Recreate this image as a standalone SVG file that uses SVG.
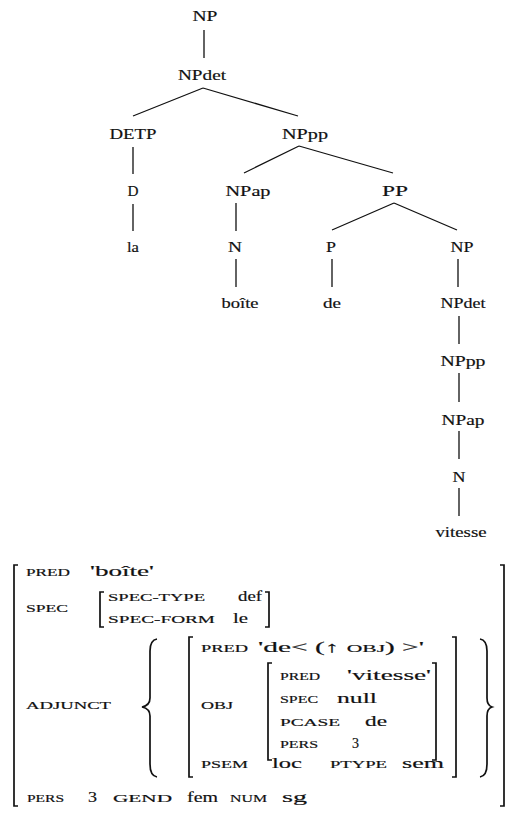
<svg xmlns="http://www.w3.org/2000/svg" width="508" height="819" viewBox="0 0 508 819">
<style>
text{font-family:"Liberation Serif","DejaVu Serif",serif;fill:#111;stroke:#111;stroke-width:0.18}
.n{font-size:14.5px;text-anchor:middle}
.sc{font-size:11px}
.v{font-size:15px}
.e{stroke:#111;stroke-width:1.3;fill:none}
.b{stroke:#111;stroke-width:1.7;fill:none}
</style>
<rect width="508" height="819" fill="#fff"/>
<g id="connectors">
<path class="e" d="M204 30V58M203 88L133 116M203 88L298 116M133 147V174M299 146L244 173M299 146L393 173M133 204V231M236 203V231M394 203L332 230M394 203L457 230M236 259V287M332 259V287M458 259V287M459 316V344M459 373V402M459 431V459M459 488V516"/>
</g>
<g id="n_np"><text class="n" x="205" y="21" textLength="25" lengthAdjust="spacingAndGlyphs">NP</text></g>
<g id="n_npdet"><text class="n" x="202" y="80" textLength="48" lengthAdjust="spacingAndGlyphs">NPdet</text></g>
<g id="n_detp"><text class="n" x="133" y="139" textLength="47" lengthAdjust="spacingAndGlyphs">DETP</text></g>
<g id="n_nppp"><text class="n" x="305" y="139" textLength="46" lengthAdjust="spacingAndGlyphs">NPpp</text></g>
<g id="n_d"><text class="n" x="133" y="196" textLength="11" lengthAdjust="spacingAndGlyphs">D</text></g>
<g id="n_npap"><text class="n" x="248" y="196" textLength="45" lengthAdjust="spacingAndGlyphs">NPap</text></g>
<g id="n_pp"><text class="n" x="395" y="196" textLength="26" lengthAdjust="spacingAndGlyphs">PP</text></g>
<g id="n_la"><text class="n" x="133" y="252" textLength="12" lengthAdjust="spacingAndGlyphs">la</text></g>
<g id="n_n"><text class="n" x="235" y="252" textLength="14" lengthAdjust="spacingAndGlyphs">N</text></g>
<g id="n_p"><text class="n" x="331" y="252" textLength="10" lengthAdjust="spacingAndGlyphs">P</text></g>
<g id="n_np2"><text class="n" x="462" y="252" textLength="23" lengthAdjust="spacingAndGlyphs">NP</text></g>
<g id="n_boite"><text class="n" x="240" y="308" textLength="37" lengthAdjust="spacingAndGlyphs">boîte</text></g>
<g id="n_de"><text class="n" x="332" y="308" textLength="18" lengthAdjust="spacingAndGlyphs">de</text></g>
<g id="n_npdet2"><text class="n" x="463" y="308" textLength="45" lengthAdjust="spacingAndGlyphs">NPdet</text></g>
<g id="n_nppp2"><text class="n" x="463" y="366" textLength="45" lengthAdjust="spacingAndGlyphs">NPpp</text></g>
<g id="n_npap2"><text class="n" x="463" y="425" textLength="43" lengthAdjust="spacingAndGlyphs">NPap</text></g>
<g id="n_n2"><text class="n" x="459" y="482" textLength="13" lengthAdjust="spacingAndGlyphs">N</text></g>
<g id="n_vitesse"><text class="n" x="461" y="537" textLength="51" lengthAdjust="spacingAndGlyphs">vitesse</text></g>
<g id="avm">
<path class="b" d="M18 565H14V806H18M500 565H504V806H500"/>
<path class="b" d="M104 592H100V627H104M265 592H269V627H265"/>
<path class="b" d="M193 637H189V777H193M452 637H456V777H452"/>
<path class="b" d="M272 663H268V760H272M432 663H436V760H432"/>
<path class="b" d="M157 639C151 640 150 645 150 651V698C150 703 147 706 142 707C147 708 150 711 150 716V764C150 770 151 776 157 777"/>
<path class="b" d="M480 639C486 640 487 645 487 651V698C487 703 489 706 492 707C489 708 487 711 487 716V764C487 770 486 776 480 777"/>
<text class="sc" x="26" y="576" textLength="44" lengthAdjust="spacingAndGlyphs">PRED</text>
<text class="v" x="90" y="576" textLength="64" lengthAdjust="spacingAndGlyphs">'boîte'</text>
<text class="sc" x="26" y="612" textLength="42" lengthAdjust="spacingAndGlyphs">SPEC</text>
<text class="sc" x="108" y="601" textLength="97" lengthAdjust="spacingAndGlyphs">SPEC-TYPE</text>
<text class="v" x="238" y="601" textLength="24" lengthAdjust="spacingAndGlyphs">def</text>
<text class="sc" x="108" y="623" textLength="107" lengthAdjust="spacingAndGlyphs">SPEC-FORM</text>
<text class="v" x="233" y="623" textLength="15" lengthAdjust="spacingAndGlyphs">le</text>
<text class="sc" x="26" y="709" textLength="85" lengthAdjust="spacingAndGlyphs">ADJUNCT</text>
<text class="sc" x="201" y="652" textLength="47" lengthAdjust="spacingAndGlyphs">PRED</text>
<text class="v" x="258" y="652" textLength="166" lengthAdjust="spacingAndGlyphs">'de&lt; (↑ <tspan style="font-size:11px">OBJ</tspan>) &gt;'</text>
<text class="sc" x="201" y="709" textLength="32" lengthAdjust="spacingAndGlyphs">OBJ</text>
<text class="sc" x="280" y="680" textLength="40" lengthAdjust="spacingAndGlyphs">PRED</text>
<text class="v" x="347" y="680" textLength="84" lengthAdjust="spacingAndGlyphs">'vitesse'</text>
<text class="sc" x="280" y="703" textLength="38" lengthAdjust="spacingAndGlyphs">SPEC</text>
<text class="v" x="337" y="703" textLength="40" lengthAdjust="spacingAndGlyphs">null</text>
<text class="sc" x="280" y="726" textLength="60" lengthAdjust="spacingAndGlyphs">PCASE</text>
<text class="v" x="365" y="726" textLength="22" lengthAdjust="spacingAndGlyphs">de</text>
<text class="sc" x="280" y="748" textLength="38" lengthAdjust="spacingAndGlyphs">PERS</text>
<text class="v" x="352" y="748" textLength="7" lengthAdjust="spacingAndGlyphs">3</text>
<text class="sc" x="201" y="768" textLength="47" lengthAdjust="spacingAndGlyphs">PSEM</text>
<text class="v" x="272" y="768" textLength="30" lengthAdjust="spacingAndGlyphs">loc</text>
<text class="sc" x="330" y="768" textLength="57" lengthAdjust="spacingAndGlyphs">PTYPE</text>
<text class="v" x="402" y="768" textLength="42" lengthAdjust="spacingAndGlyphs">sem</text>
<text class="sc" x="27" y="802" textLength="37" lengthAdjust="spacingAndGlyphs">PERS</text>
<text class="v" x="88" y="802" textLength="9" lengthAdjust="spacingAndGlyphs">3</text>
<text class="sc" x="113" y="802" textLength="59" lengthAdjust="spacingAndGlyphs">GEND</text>
<text class="v" x="187" y="802" textLength="31" lengthAdjust="spacingAndGlyphs">fem</text>
<text class="sc" x="230" y="802" textLength="37" lengthAdjust="spacingAndGlyphs">NUM</text>
<text class="v" x="282" y="802" textLength="25" lengthAdjust="spacingAndGlyphs">sg</text>
</g>
</svg>
